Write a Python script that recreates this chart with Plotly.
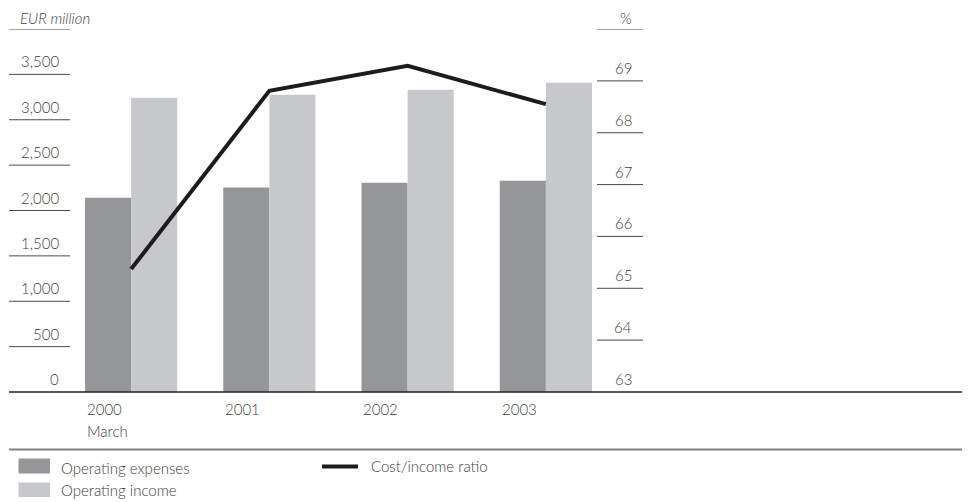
import plotly.graph_objects as go

# ---- data ----
years = ["2000", "2001", "2002", "2003"]
year_sub = ["March", "", "", ""]
operating_expenses = [2140, 2253, 2305, 2327]
operating_income = [3242, 3275, 3330, 3408]
cost_income_ratio = [65.37, 68.81, 69.29, 68.55]

left_ticks = [0, 500, 1000, 1500, 2000, 2500, 3000, 3500]
left_tick_labels = ["0", "500", "1,000", "1,500", "2,000", "2,500", "3,000", "3,500"]
right_ticks = [63, 64, 65, 66, 67, 68, 69]
right_tick_labels = ["63", "64", "65", "66", "67", "68", "69"]
left_title = "EUR million"
right_title = "%"

# ---- styling ----
# The page body has an 8px margin, so the figure is drawn 8px smaller and
# all reference-pixel positions are converted accordingly.
OFF = 8
W, H = 970 - OFF, 502 - OFF
ML, MR, MT, MB = 62 - OFF, 355, 29 - OFF, 110
PW = W - ML - MR
PH = H - MT - MB
FONT = "Lato"
TXT = "#404040"
C_EXP = "#959698"
C_INC = "#c7c8ca"
C_LINE = "#1c1c1c"
TF = dict(family=FONT, size=15, color=TXT, weight=300)


def px_x(p):
    return (p - OFF - ML) / PW


def px_y(p):
    return (392 - p) / PH


fig = go.Figure()
fig.add_trace(go.Bar(x=years, y=operating_expenses, name="Operating expenses",
                     marker=dict(color=C_EXP, line=dict(width=0)), showlegend=False))
fig.add_trace(go.Bar(x=years, y=operating_income, name="Operating income",
                     marker=dict(color=C_INC, line=dict(width=0)), showlegend=False))
fig.add_trace(go.Scatter(x=years, y=cost_income_ratio, name="Cost/income ratio", yaxis="y2",
                         mode="lines", line=dict(color=C_LINE, width=4), showlegend=False))

shapes = []
annotations = []

# left axis tick lines + labels
for v, lab in zip(left_ticks, left_tick_labels):
    if v > 0:
        shapes.append(dict(type="line", xref="paper", yref="y", x0=px_x(9), x1=px_x(70),
                           y0=v, y1=v, line=dict(color="#4a4a4a", width=1)))
    annotations.append(dict(xref="paper", yref="y", x=px_x(61), y=v, text=lab, showarrow=False,
                            xanchor="right", yanchor="middle", yshift=13, font=TF))
top_left = 4000
shapes.append(dict(type="line", xref="paper", yref="y", x0=px_x(9), x1=px_x(70),
                   y0=top_left, y1=top_left, line=dict(color="#4a4a4a", width=1)))
annotations.append(dict(xref="paper", yref="y", x=px_x(19), y=top_left, text="<i>" + left_title + "</i>",
                        showarrow=False, xanchor="left", yanchor="middle", yshift=11,
                        borderpad=0, font=TF))

# right axis tick lines + labels
for v, lab in zip(right_ticks, right_tick_labels):
    if v > 63:
        shapes.append(dict(type="line", xref="paper", yref="y2", x0=px_x(597), x1=px_x(643),
                           y0=v, y1=v, line=dict(color="#4a4a4a", width=1)))
    annotations.append(dict(xref="paper", yref="y2", x=px_x(634), y=v, text=lab, showarrow=False,
                            xanchor="right", yanchor="middle", yshift=13, font=TF))
top_right = 70
shapes.append(dict(type="line", xref="paper", yref="y2", x0=px_x(597), x1=px_x(643),
                   y0=top_right, y1=top_right, line=dict(color="#4a4a4a", width=1)))
annotations.append(dict(xref="paper", yref="y2", x=px_x(633), y=top_right, text=right_title,
                        showarrow=False, xanchor="right", yanchor="middle", yshift=11,
                        borderpad=0, font=TF))

# baseline and separator
shapes.append(dict(type="line", xref="paper", yref="paper", x0=px_x(9), x1=px_x(975),
                   y0=0, y1=0, line=dict(color="#222222", width=1.5)))
shapes.append(dict(type="line", xref="paper", yref="paper", x0=px_x(9), x1=px_x(975),
                   y0=px_y(449.5), y1=px_y(449.5), line=dict(color="#808080", width=2)))

# category labels (left-aligned with group's left edge)
for i, (yr, sub) in enumerate(zip(years, year_sub)):
    annotations.append(dict(xref="x", yref="paper", x=i - 0.335, y=px_y(409), text=yr,
                            showarrow=False, xanchor="left", yanchor="middle", font=TF))
    if sub:
        annotations.append(dict(xref="x", yref="paper", x=i - 0.335, y=px_y(431), text=sub,
                                showarrow=False, xanchor="left", yanchor="middle", font=TF))

# legend (drawn)
shapes.append(dict(type="rect", xref="paper", yref="paper", x0=px_x(18.5), x1=px_x(50),
                   y0=px_y(458.5), y1=px_y(473.5), fillcolor=C_EXP, line=dict(width=0)))
shapes.append(dict(type="rect", xref="paper", yref="paper", x0=px_x(18.5), x1=px_x(50),
                   y0=px_y(482.5), y1=px_y(497), fillcolor=C_INC, line=dict(width=0)))
shapes.append(dict(type="line", xref="paper", yref="paper", x0=px_x(322), x1=px_x(358),
                   y0=px_y(466.5), y1=px_y(466.5), line=dict(color=C_LINE, width=4)))
for txt, x, y in [("Operating expenses", 59, 468), ("Operating income", 59, 490),
                  ("Cost/income ratio", 369, 466)]:
    annotations.append(dict(xref="paper", yref="paper", x=px_x(x), y=px_y(y), text=txt,
                            showarrow=False, xanchor="left", yanchor="middle", font=TF))

fig.update_layout(
    width=W, height=H, autosize=False,
    margin=dict(l=ML, r=MR, t=MT, b=MB, pad=0),
    paper_bgcolor="white", plot_bgcolor="white",
    barmode="group", bargap=0.333, bargroupgap=0,
    xaxis=dict(range=[-0.5, 3.5], showticklabels=False, showgrid=False, zeroline=False,
               showline=False, ticks="", fixedrange=True),
    yaxis=dict(range=[0, 4000], visible=False, showgrid=False, zeroline=False),
    yaxis2=dict(range=[63, 70], overlaying="y", side="right", visible=False,
                showgrid=False, zeroline=False),
    shapes=shapes,
    annotations=annotations,
    font=TF,
    showlegend=False,
)

fig.write_html("out.html")
